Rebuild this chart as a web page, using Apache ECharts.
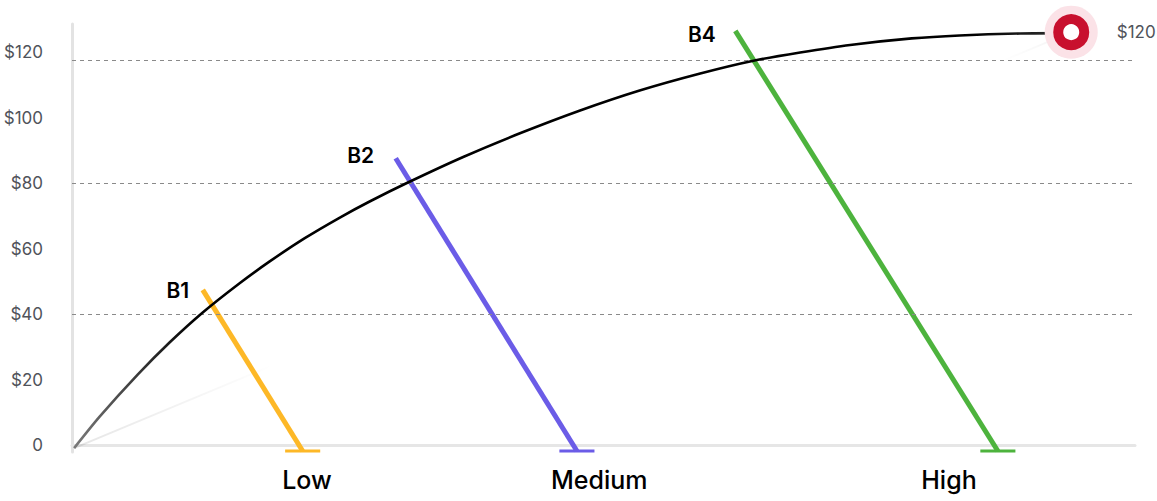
<!DOCTYPE html>
<html>
<head>
<meta charset="utf-8">
<script src="https://cdn.jsdelivr.net/npm/echarts@6/dist/echarts.min.js"></script>
<style>
html,body{margin:0;padding:0;background:#fff;}
#chart{width:1157px;height:501px;}
</style>
</head>
<body>
<div id="chart"></div>
<script>
// ---- data ----
const curveX = [0.2, 2.6, 6.2, 9.2, 12.3, 15.8, 18.6, 21.9, 25.2, 28.0, 31.6, 36.8, 42.2, 47.8, 53.4, 59.1, 64.1, 68.5, 73.2, 79.0, 83.5, 89.2, 94.0];
const curveY = [-0.8, 8.8, 21.7, 31.5, 40.6, 49.6, 56.2, 63.3, 69.6, 74.5, 80.3, 88.1, 95.4, 102.3, 108.4, 113.6, 117.5, 120.0, 122.3, 124.3, 125.2, 125.8, 125.9];

const barNames = ['B1', 'B2', 'B4'];
const barTopX = [12.3, 30.45, 62.4];
const barTopY = [47.5, 87.7, 126.6];
const barBaseX = [21.7, 47.5, 87.1];
const barBaseY = -1.7;
const barBaseHalf = 1.65;

const categories = ['Low', 'Medium', 'High'];
const categoryX = [22.1, 49.6, 82.5];

const yTickValues = [0, 20, 40, 60, 80, 100, 120];
const gridValues = [40, 80, 117.6];

const peakX = 94.0;
const peakY = 126.2;
const peakLabel = '$120';

// ---- styles ----
const barColors = ['#FDB827', '#6B5CE7', '#4DB33D'];
const FONT = 'Inter';

const chart = echarts.init(document.getElementById('chart'), null, { renderer: 'svg' });

const series = [];

// faint straight line from origin to peak
series.push({
  type: 'line',
  data: [[curveX[0], curveY[0]], [peakX, peakY]],
  symbol: 'none',
  silent: true,
  z: 1,
  lineStyle: {
    width: 2,
    color: new echarts.graphic.LinearGradient(0, 0, 1, 0, [
      { offset: 0, color: 'rgba(0,0,0,0.10)' },
      { offset: 0.2, color: 'rgba(0,0,0,0)' },
      { offset: 0.93, color: 'rgba(0,0,0,0)' },
      { offset: 1, color: 'rgba(0,0,0,0.05)' }
    ])
  },
  markLine: {
    silent: true,
    symbol: 'none',
    label: { show: false },
    lineStyle: { color: '#8a8a8a', width: 1, type: [4, 4] },
    data: gridValues.map(v => ({ yAxis: v }))
  }
});

// B lines and base marks
barNames.forEach((name, i) => {
  series.push({
    type: 'line',
    name: name,
    data: [[barTopX[i], barTopY[i]], [barBaseX[i], barBaseY]],
    symbol: 'none',
    clip: false,
    z: 3,
    lineStyle: { color: barColors[i], width: 5, cap: 'butt' }
  });
  series.push({
    type: 'line',
    data: [[barBaseX[i] - barBaseHalf, barBaseY], [barBaseX[i] + barBaseHalf, barBaseY]],
    symbol: 'none',
    clip: false,
    z: 3,
    lineStyle: { color: barColors[i], width: 3, cap: 'butt' }
  });
});

// B labels
const labelDist = [13, 21, 19];
const labelDy = [1, -3, 4];
series.push({
  type: 'scatter',
  clip: false,
  symbolSize: 1,
  itemStyle: { color: 'rgba(0,0,0,0)', opacity: 1 },
  z: 6,
  data: barNames.map((n, i) => ({
    value: [barTopX[i], barTopY[i]],
    name: n,
    label: {
      show: true,
      position: 'left',
      distance: labelDist[i],
      offset: [0, labelDy[i]],
      formatter: n,
      color: '#000',
      fontFamily: FONT,
      fontSize: 21,
      fontWeight: 600
    }
  }))
});

// main curve
series.push({
  type: 'line',
  data: curveX.map((x, i) => [x, curveY[i]]),
  smooth: 0.25,
  symbol: 'none',
  clip: false,
  z: 5,
  lineStyle: {
    width: 2.6,
    color: new echarts.graphic.LinearGradient(0, 0, 1, 0, [
      { offset: 0, color: '#7a7a7a' },
      { offset: 0.12, color: '#000' },
      { offset: 0.9, color: '#000' },
      { offset: 1, color: '#333' }
    ])
  }
});

// peak halo + marker
series.push({
  type: 'scatter',
  clip: false,
  z: 7,
  symbolSize: 53,
  itemStyle: { color: '#FBE2E7', opacity: 1 },
  data: [[peakX, peakY]],
  label: {
    show: true,
    position: 'right',
    distance: 19,
    formatter: peakLabel,
    color: '#50535a',
    fontFamily: FONT,
    fontSize: 17
  }
});
series.push({
  type: 'scatter',
  clip: false,
  z: 8,
  symbolSize: 26,
  itemStyle: { color: '#ffffff', borderColor: '#C8102E', borderWidth: 10, opacity: 1 },
  data: [[peakX, peakY]]
});

chart.setOption({
  animation: false,
  backgroundColor: '#ffffff',
  grid: { left: 72, right: 22, top: 24, bottom: 49 },
  xAxis: {
    type: 'value',
    min: 0,
    max: 100,
    splitLine: { show: false },
    axisTick: { show: false },
    axisLine: { show: true, lineStyle: { color: '#e6e6e6', width: 3 } },
    axisLabel: {
      show: true,
      customValues: categoryX,
      margin: 15,
      color: '#000',
      fontFamily: FONT,
      fontSize: 25,
      fontWeight: 500,
      formatter: function (v) {
        const idx = categoryX.findIndex(c => Math.abs(c - v) < 1e-6);
        return idx >= 0 ? categories[idx] : '';
      }
    }
  },
  yAxis: {
    type: 'value',
    min: -2,
    max: 128.7,
    splitLine: { show: false },
    axisTick: { show: false },
    axisLine: { show: true, lineStyle: { color: '#e3e3e3', width: 3 } },
    axisLabel: {
      show: true,
      customValues: yTickValues,
      margin: 29,
      color: '#50535a',
      fontFamily: FONT,
      fontSize: 17,
      formatter: function (v) {
        return v === 0 ? '0' : '$' + v;
      }
    }
  },
  series: series
});
</script>
</body>
</html>
